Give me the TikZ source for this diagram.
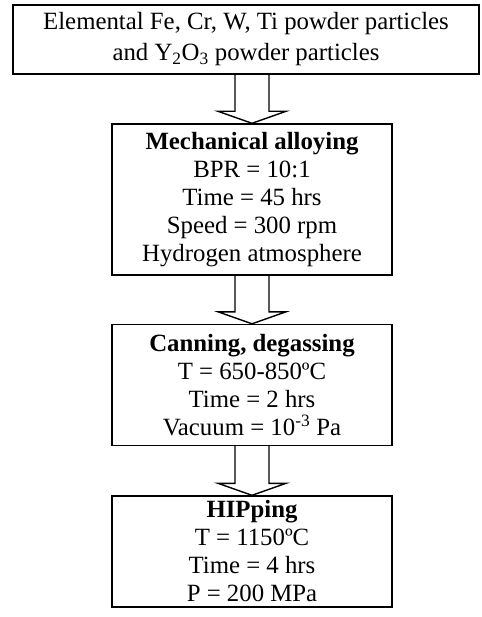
\documentclass[tikz,border=0pt]{standalone}
\usepackage{fontspec}
\setmainfont{Liberation Serif}
\usetikzlibrary{calc}
\begin{document}
\begin{tikzpicture}[x=1pt,y=1pt,
  stagebox/.style={draw, line width=1.4pt, inner sep=0pt, align=center,
    font=\fontsize{24.8}{28}\selectfont},
  flowarrow/.style={draw, line width=1.4pt, line join=miter}]
\useasboundingbox (0,0) rectangle (481,-617);
% process stages
\node[stagebox, minimum width=466pt, minimum height=69pt,
  font=\fontsize{24.8}{31}\selectfont] (b1) at (246,-39.5)
  {Elemental Fe, Cr, W, Ti powder particles\\and Y\textsubscript{2}O\textsubscript{3} powder particles};
\node[stagebox, minimum width=280pt, minimum height=151pt] (b2) at (252,-199.5)
  {\textbf{Mechanical alloying}\\BPR = 10:1\\Time = 45 hrs\\Speed = 300 rpm\\Hydrogen atmosphere};
\node[stagebox, minimum width=280pt, minimum height=121pt] (b3) at (252,-385)
  {\textbf{Canning, degassing}\\T = 650-850ºC\\Time = 2 hrs\\Vacuum = 10\textsuperscript{-3} Pa};
\node[stagebox, minimum width=280pt, minimum height=111pt] (b4) at (252,-551.5)
  {\textbf{HIPping}\\T = 1150ºC\\Time = 4 hrs\\P = 200 MPa};
% hollow block arrows between stages
\newcommand\blockarrow[2]{%
  \draw[flowarrow] ($(#1.south -| #2.north)+(-17,0)$) -- ($(#2.north)+(-17,12)$)
    -- ($(#2.north)+(-34,12)$) -- (#2.north) -- ($(#2.north)+(34,12)$)
    -- ($(#2.north)+(17,12)$) -- ($(#1.south -| #2.north)+(17,0)$);}
\blockarrow{b1}{b2}
\blockarrow{b2}{b3}
\blockarrow{b3}{b4}
\end{tikzpicture}
\end{document}
